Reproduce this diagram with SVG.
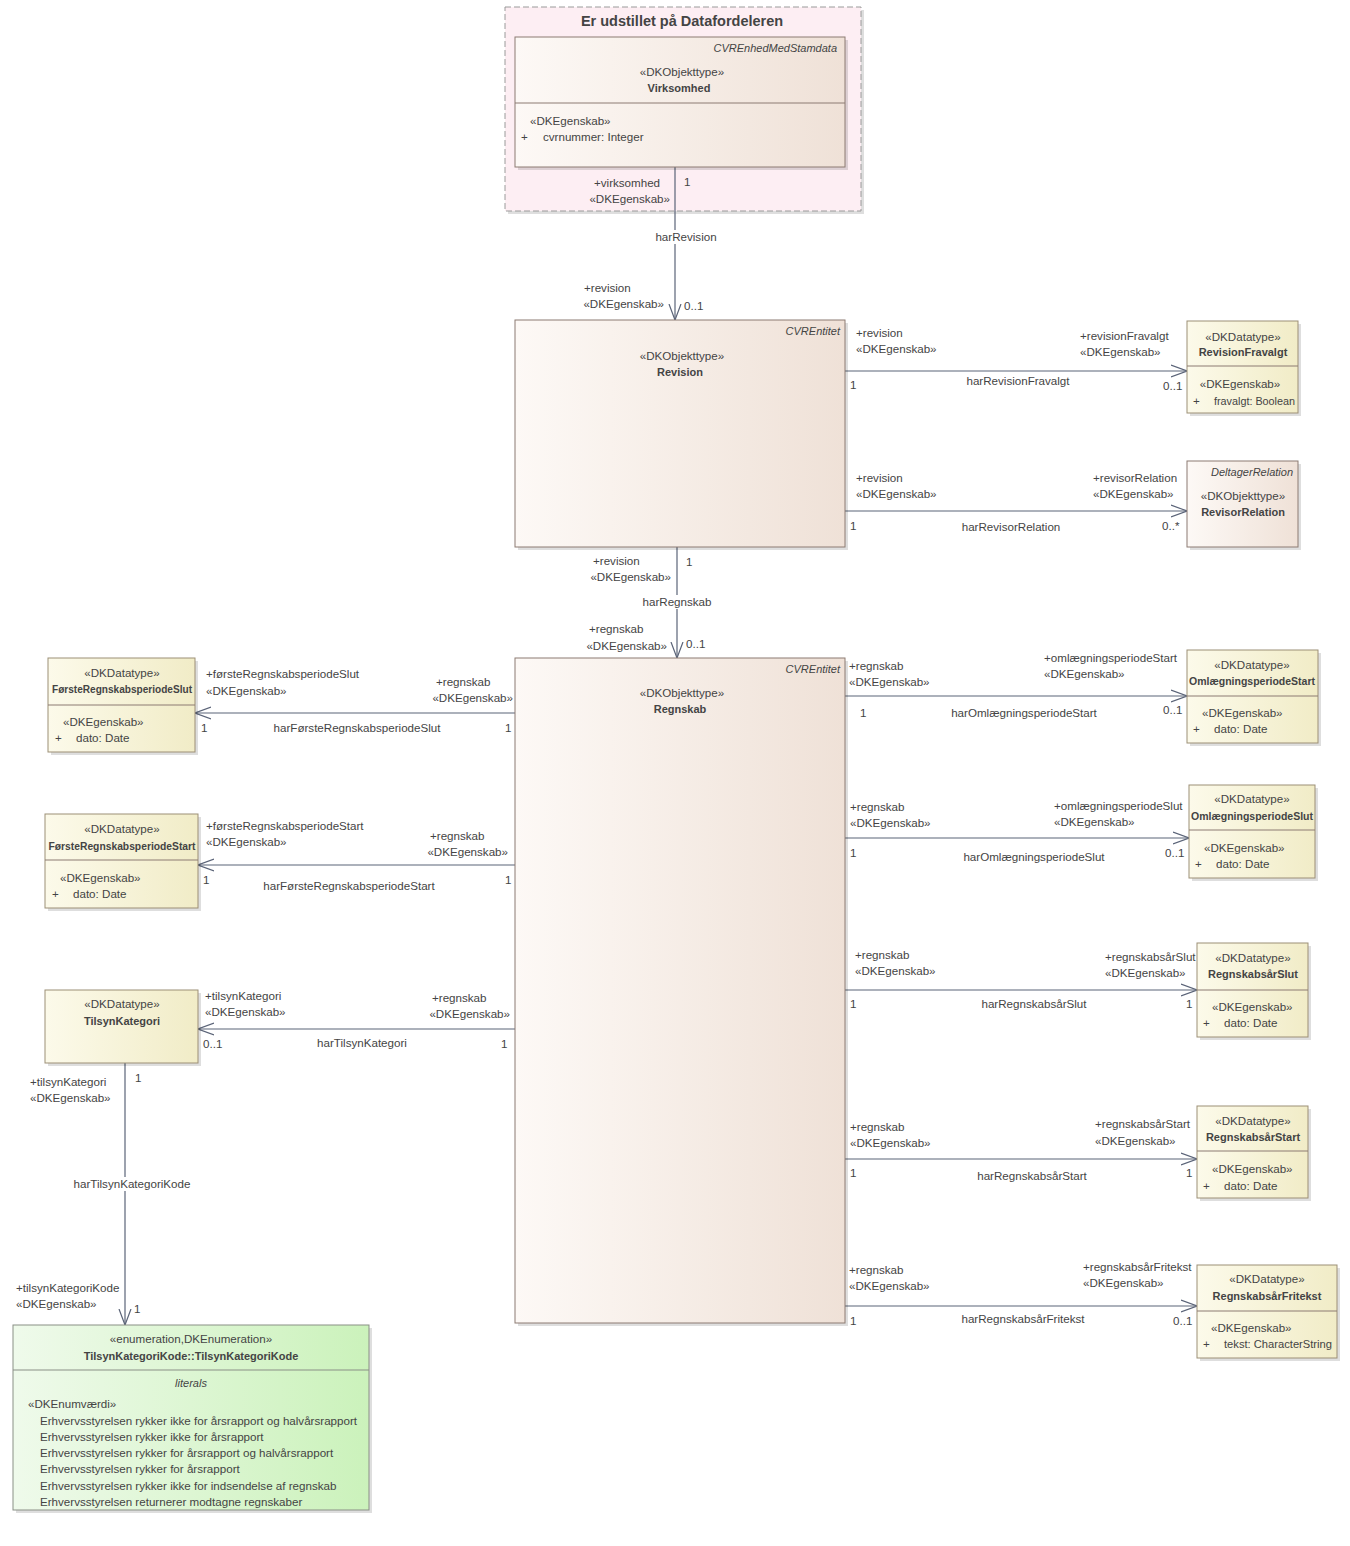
<svg xmlns="http://www.w3.org/2000/svg" width="1350" height="1546" viewBox="0 0 1350 1546">
<style>
text{font-family:"Liberation Sans",Arial,sans-serif;font-size:11.6px;fill:#444444}
.b{font-weight:bold;font-size:11px}
.i{font-style:italic;font-size:11px}
.m{text-anchor:middle}
.e{text-anchor:end}
.cls{fill:url(#gC);stroke:#8c7b72;stroke-width:1}
.dt{fill:url(#gD);stroke:#9c8f76;stroke-width:1}
.en{fill:url(#gE);stroke:#8a8f86;stroke-width:1}
.sh{fill:#000;opacity:0.13}
.sep{stroke:#8c7b72;stroke-width:1}
.ln{stroke:#5b6478;stroke-width:1.2;fill:none}
.bg{fill:#ffffff}
</style>
<defs>
<linearGradient id="gC" x1="0" y1="0" x2="1" y2="0"><stop offset="0" stop-color="#fdf9f6"/><stop offset="1" stop-color="#efe1d7"/></linearGradient>
<linearGradient id="gD" x1="0" y1="0" x2="1" y2="0"><stop offset="0" stop-color="#fcfaea"/><stop offset="1" stop-color="#f1ecc7"/></linearGradient>
<linearGradient id="gE" x1="0" y1="0" x2="1" y2="0"><stop offset="0" stop-color="#effaeb"/><stop offset="1" stop-color="#cbf2bb"/></linearGradient>
<marker id="arr" viewBox="0 0 16 14" refX="16" refY="7" markerWidth="16" markerHeight="14" markerUnits="userSpaceOnUse" orient="auto">
<path d="M0,1 L16,7 L0,13" fill="none" stroke="#5b6478" stroke-width="1.2"/>
</marker>
</defs>
<rect width="1350" height="1546" fill="#ffffff"/>

<g id="pkg">
<rect x="508" y="10" width="356" height="204" class="sh"/>
<rect x="505" y="7" width="356" height="204" fill="#fdeef3" stroke="#9a9a9a" stroke-dasharray="6,3"/>
<text x="682" y="26" class="m" style="font-size:14.5px;font-weight:bold">Er udstillet på Datafordeleren</text>
</g>

<g id="connectors">
<line x1="675" y1="167" x2="675" y2="320" class="ln" marker-end="url(#arr)"/>
<rect x="638" y="230" width="84" height="14" class="bg"/>
<text x="686" y="241" class="m">harRevision</text>
<text x="594" y="187">+virksomhed</text>
<text x="670" y="203" class="e">«DKEgenskab»</text>
<text x="684" y="186">1</text>
<text x="584" y="292">+revision</text>
<text x="664" y="308" class="e">«DKEgenskab»</text>
<text x="684" y="310">0..1</text>

<line x1="845" y1="371" x2="1187" y2="371" class="ln" marker-end="url(#arr)"/>
<text x="856" y="337">+revision</text>
<text x="856" y="353">«DKEgenskab»</text>
<text x="850" y="389">1</text>
<text x="1018" y="385" class="m">harRevisionFravalgt</text>
<text x="1080" y="340">+revisionFravalgt</text>
<text x="1080" y="356">«DKEgenskab»</text>
<text x="1163" y="390">0..1</text>

<line x1="845" y1="511" x2="1187" y2="511" class="ln" marker-end="url(#arr)"/>
<text x="856" y="482">+revision</text>
<text x="856" y="498">«DKEgenskab»</text>
<text x="850" y="530">1</text>
<text x="1011" y="531" class="m">harRevisorRelation</text>
<text x="1093" y="482">+revisorRelation</text>
<text x="1093" y="498">«DKEgenskab»</text>
<text x="1162" y="530">0..*</text>

<line x1="677" y1="547" x2="677" y2="658" class="ln" marker-end="url(#arr)"/>
<rect x="638" y="595" width="78" height="14" class="bg"/>
<text x="677" y="606" class="m">harRegnskab</text>
<text x="593" y="565">+revision</text>
<text x="671" y="581" class="e">«DKEgenskab»</text>
<text x="686" y="566">1</text>
<text x="589" y="633">+regnskab</text>
<text x="667" y="650" class="e">«DKEgenskab»</text>
<text x="686" y="648">0..1</text>

<line x1="515" y1="713" x2="195" y2="713" class="ln" marker-end="url(#arr)"/>
<text x="206" y="678">+førsteRegnskabsperiodeSlut</text>
<text x="206" y="695">«DKEgenskab»</text>
<text x="201" y="732">1</text>
<text x="357" y="732" class="m">harFørsteRegnskabsperiodeSlut</text>
<text x="436" y="686">+regnskab</text>
<text x="513" y="702" class="e">«DKEgenskab»</text>
<text x="505" y="732">1</text>

<line x1="515" y1="865" x2="198" y2="865" class="ln" marker-end="url(#arr)"/>
<text x="206" y="830">+førsteRegnskabsperiodeStart</text>
<text x="206" y="846">«DKEgenskab»</text>
<text x="203" y="884">1</text>
<text x="349" y="890" class="m">harFørsteRegnskabsperiodeStart</text>
<text x="430" y="840">+regnskab</text>
<text x="508" y="856" class="e">«DKEgenskab»</text>
<text x="505" y="884">1</text>

<line x1="515" y1="1029" x2="198" y2="1029" class="ln" marker-end="url(#arr)"/>
<text x="205" y="1000">+tilsynKategori</text>
<text x="205" y="1016">«DKEgenskab»</text>
<text x="203" y="1048">0..1</text>
<text x="362" y="1047" class="m">harTilsynKategori</text>
<text x="432" y="1002">+regnskab</text>
<text x="510" y="1018" class="e">«DKEgenskab»</text>
<text x="501" y="1048">1</text>

<line x1="125" y1="1063" x2="125" y2="1325" class="ln" marker-end="url(#arr)"/>
<rect x="66" y="1177" width="132" height="14" class="bg"/>
<text x="132" y="1188" class="m">harTilsynKategoriKode</text>
<text x="30" y="1086">+tilsynKategori</text>
<text x="30" y="1102">«DKEgenskab»</text>
<text x="135" y="1082">1</text>
<text x="16" y="1292">+tilsynKategoriKode</text>
<text x="16" y="1308">«DKEgenskab»</text>
<text x="134" y="1313">1</text>

<line x1="845" y1="696" x2="1187" y2="696" class="ln" marker-end="url(#arr)"/>
<text x="849" y="670">+regnskab</text>
<text x="849" y="686">«DKEgenskab»</text>
<text x="860" y="717">1</text>
<text x="1024" y="717" class="m">harOmlægningsperiodeStart</text>
<text x="1044" y="662">+omlægningsperiodeStart</text>
<text x="1044" y="678">«DKEgenskab»</text>
<text x="1163" y="714">0..1</text>

<line x1="845" y1="838" x2="1189" y2="838" class="ln" marker-end="url(#arr)"/>
<text x="850" y="811">+regnskab</text>
<text x="850" y="827">«DKEgenskab»</text>
<text x="850" y="857">1</text>
<text x="1034" y="861" class="m">harOmlægningsperiodeSlut</text>
<text x="1054" y="810">+omlægningsperiodeSlut</text>
<text x="1054" y="826">«DKEgenskab»</text>
<text x="1165" y="857">0..1</text>

<line x1="845" y1="990" x2="1197" y2="990" class="ln" marker-end="url(#arr)"/>
<text x="855" y="959">+regnskab</text>
<text x="855" y="975">«DKEgenskab»</text>
<text x="850" y="1008">1</text>
<text x="1034" y="1008" class="m">harRegnskabsårSlut</text>
<text x="1105" y="961">+regnskabsårSlut</text>
<text x="1105" y="977">«DKEgenskab»</text>
<text x="1186" y="1008">1</text>

<line x1="845" y1="1159" x2="1197" y2="1159" class="ln" marker-end="url(#arr)"/>
<text x="850" y="1131">+regnskab</text>
<text x="850" y="1147">«DKEgenskab»</text>
<text x="850" y="1177">1</text>
<text x="1032" y="1180" class="m">harRegnskabsårStart</text>
<text x="1095" y="1128">+regnskabsårStart</text>
<text x="1095" y="1145">«DKEgenskab»</text>
<text x="1186" y="1177">1</text>

<line x1="845" y1="1306" x2="1197" y2="1306" class="ln" marker-end="url(#arr)"/>
<text x="849" y="1274">+regnskab</text>
<text x="849" y="1290">«DKEgenskab»</text>
<text x="850" y="1325">1</text>
<text x="1023" y="1323" class="m">harRegnskabsårFritekst</text>
<text x="1083" y="1271">+regnskabsårFritekst</text>
<text x="1083" y="1287">«DKEgenskab»</text>
<text x="1173" y="1325">0..1</text>
</g>

<g id="virksomhed">
<rect x="518" y="40" width="330" height="130" class="sh"/>
<rect x="515" y="37" width="330" height="130" class="cls"/>
<line x1="515" y1="103" x2="845" y2="103" class="sep"/>
<text x="837" y="52" class="i e">CVREnhedMedStamdata</text>
<text x="682" y="76" class="m">«DKObjekttype»</text>
<text x="679" y="92" class="b m">Virksomhed</text>
<text x="530" y="125">«DKEgenskab»</text>
<text x="521" y="141">+</text>
<text x="543" y="141">cvrnummer: Integer</text>
</g>

<g id="revision">
<rect x="518" y="323" width="330" height="227" class="sh"/>
<rect x="515" y="320" width="330" height="227" class="cls"/>
<text x="840" y="335" class="i e">CVREntitet</text>
<text x="682" y="360" class="m">«DKObjekttype»</text>
<text x="680" y="376" class="b m">Revision</text>
</g>

<g id="regnskab">
<rect x="518" y="661" width="330" height="665" class="sh"/>
<rect x="515" y="658" width="330" height="665" class="cls"/>
<text x="840" y="673" class="i e">CVREntitet</text>
<text x="682" y="697" class="m">«DKObjekttype»</text>
<text x="680" y="713" class="b m">Regnskab</text>
</g>

<g id="revisionFravalgt">
<rect x="1190" y="324" width="111" height="92" class="sh"/>
<rect x="1187" y="321" width="111" height="92" class="dt"/>
<line x1="1187" y1="366" x2="1298" y2="366" class="sep"/>
<text x="1243" y="341" class="m">«DKDatatype»</text>
<text x="1243" y="356" class="b m">RevisionFravalgt</text>
<text x="1240" y="388" class="m">«DKEgenskab»</text>
<text x="1193" y="405">+</text>
<text x="1214" y="405" textLength="81" lengthAdjust="spacingAndGlyphs">fravalgt: Boolean</text>
</g>

<g id="revisorRelation">
<rect x="1190" y="464" width="111" height="86" class="sh"/>
<rect x="1187" y="461" width="111" height="86" class="cls"/>
<text x="1293" y="476" class="i e">DeltagerRelation</text>
<text x="1243" y="500" class="m">«DKObjekttype»</text>
<text x="1243" y="516" class="b m">RevisorRelation</text>
</g>

<g id="foersteSlut">
<rect x="51" y="661" width="147" height="94" class="sh"/>
<rect x="48" y="658" width="147" height="94" class="dt"/>
<line x1="48" y1="705" x2="195" y2="705" class="sep"/>
<text x="122" y="677" class="m">«DKDatatype»</text>
<text x="122" y="693" class="b m" textLength="140" lengthAdjust="spacingAndGlyphs">FørsteRegnskabsperiodeSlut</text>
<text x="63" y="726">«DKEgenskab»</text>
<text x="55" y="742">+</text>
<text x="76" y="742">dato: Date</text>
</g>

<g id="foersteStart">
<rect x="48" y="817" width="153" height="94" class="sh"/>
<rect x="45" y="814" width="153" height="94" class="dt"/>
<line x1="45" y1="860" x2="198" y2="860" class="sep"/>
<text x="122" y="833" class="m">«DKDatatype»</text>
<text x="122" y="850" class="b m" textLength="147" lengthAdjust="spacingAndGlyphs">FørsteRegnskabsperiodeStart</text>
<text x="60" y="882">«DKEgenskab»</text>
<text x="52" y="898">+</text>
<text x="73" y="898">dato: Date</text>
</g>

<g id="tilsynKategori">
<rect x="48" y="993" width="153" height="73" class="sh"/>
<rect x="45" y="990" width="153" height="73" class="dt"/>
<text x="122" y="1008" class="m">«DKDatatype»</text>
<text x="122" y="1025" class="b m">TilsynKategori</text>
</g>

<g id="tilsynKategoriKode">
<rect x="16" y="1328" width="356" height="185" class="sh"/>
<rect x="13" y="1325" width="356" height="185" class="en"/>
<line x1="13" y1="1370" x2="369" y2="1370" stroke="#8a8f86"/>
<text x="191" y="1343" class="m">«enumeration,DKEnumeration»</text>
<text x="191" y="1360" class="b m">TilsynKategoriKode::TilsynKategoriKode</text>
<text x="191" y="1387" class="i m">literals</text>
<text x="28" y="1408">«DKEnumværdi»</text>
<text x="40" y="1425">Erhvervsstyrelsen rykker ikke for årsrapport og halvårsrapport</text>
<text x="40" y="1441">Erhvervsstyrelsen rykker ikke for årsrapport</text>
<text x="40" y="1457">Erhvervsstyrelsen rykker for årsrapport og halvårsrapport</text>
<text x="40" y="1473">Erhvervsstyrelsen rykker for årsrapport</text>
<text x="40" y="1490">Erhvervsstyrelsen rykker ikke for indsendelse af regnskab</text>
<text x="40" y="1506">Erhvervsstyrelsen returnerer modtagne regnskaber</text>
</g>

<g id="omlStart">
<rect x="1190" y="653" width="131" height="93" class="sh"/>
<rect x="1187" y="650" width="131" height="93" class="dt"/>
<line x1="1187" y1="696" x2="1318" y2="696" class="sep"/>
<text x="1252" y="669" class="m">«DKDatatype»</text>
<text x="1252" y="685" class="b m" textLength="126" lengthAdjust="spacingAndGlyphs">OmlægningsperiodeStart</text>
<text x="1202" y="717">«DKEgenskab»</text>
<text x="1193" y="733">+</text>
<text x="1214" y="733">dato: Date</text>
</g>

<g id="omlSlut">
<rect x="1192" y="788" width="126" height="93" class="sh"/>
<rect x="1189" y="785" width="126" height="93" class="dt"/>
<line x1="1189" y1="830" x2="1315" y2="830" class="sep"/>
<text x="1252" y="803" class="m">«DKDatatype»</text>
<text x="1252" y="820" class="b m" textLength="122" lengthAdjust="spacingAndGlyphs">OmlægningsperiodeSlut</text>
<text x="1204" y="852">«DKEgenskab»</text>
<text x="1195" y="868">+</text>
<text x="1216" y="868">dato: Date</text>
</g>

<g id="regnskabsaarSlut">
<rect x="1200" y="946" width="111" height="94" class="sh"/>
<rect x="1197" y="943" width="111" height="94" class="dt"/>
<line x1="1197" y1="990" x2="1308" y2="990" class="sep"/>
<text x="1253" y="962" class="m">«DKDatatype»</text>
<text x="1253" y="978" class="b m">RegnskabsårSlut</text>
<text x="1212" y="1011">«DKEgenskab»</text>
<text x="1203" y="1027">+</text>
<text x="1224" y="1027">dato: Date</text>
</g>

<g id="regnskabsaarStart">
<rect x="1200" y="1109" width="111" height="92" class="sh"/>
<rect x="1197" y="1106" width="111" height="92" class="dt"/>
<line x1="1197" y1="1151" x2="1308" y2="1151" class="sep"/>
<text x="1253" y="1125" class="m">«DKDatatype»</text>
<text x="1253" y="1141" class="b m">RegnskabsårStart</text>
<text x="1212" y="1173">«DKEgenskab»</text>
<text x="1203" y="1190">+</text>
<text x="1224" y="1190">dato: Date</text>
</g>

<g id="regnskabsaarFritekst">
<rect x="1200" y="1268" width="140" height="93" class="sh"/>
<rect x="1197" y="1265" width="140" height="93" class="dt"/>
<line x1="1197" y1="1311" x2="1337" y2="1311" class="sep"/>
<text x="1267" y="1283" class="m">«DKDatatype»</text>
<text x="1267" y="1300" class="b m">RegnskabsårFritekst</text>
<text x="1211" y="1332">«DKEgenskab»</text>
<text x="1203" y="1348">+</text>
<text x="1224" y="1348" textLength="108" lengthAdjust="spacingAndGlyphs">tekst: CharacterString</text>
</g>
</svg>
